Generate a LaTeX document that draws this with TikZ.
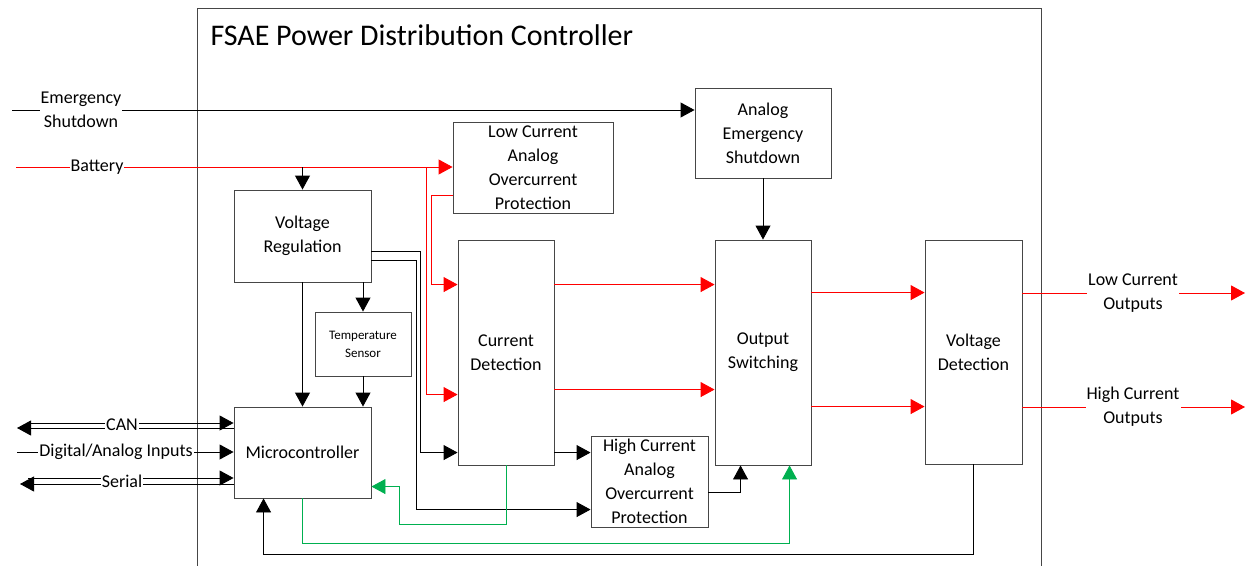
\documentclass[tikz,border=0pt]{standalone}
\usepackage{fontspec}
\setmainfont{Carlito}
\usepackage{xcolor}
\usetikzlibrary{
    arrows.meta,
    calc,
    positioning
}
\definecolor{boxgray}{RGB}{70,70,70}
\definecolor{pwrred}{RGB}{255,0,0}
\definecolor{siggreen}{RGB}{0,176,80}

\begin{document}
\begin{tikzpicture}[x=1pt, y=-1pt,
    font=\fontsize{18}{24}\selectfont,
    >={Triangle[length=14pt,width=15pt]},
    blk/.style={draw=boxgray, line width=0.9pt, align=center, inner sep=0pt},
    lbl/.style={fill=white, align=center, inner sep=1pt},
    wire/.style={line width=0.9pt, color=black},
    pwr/.style={line width=0.9pt, color=pwrred},
    sig/.style={line width=0.9pt, color=siggreen}]
                                \useasboundingbox (0,0) rectangle (1253,565);
                                \draw[boxgray, line width=1pt] (197,570) -- (197,8) -- (1041,8) -- (1041,570);
                                \node[anchor=west, font=\fontsize{30}{34}\selectfont] (title) at (207,35) {FSAE Power Distribution Controller};
                                \node[blk, minimum width=136pt, minimum height=90pt] (aes) at (763,133) {Analog\\Emergency\\Shutdown};
                                \node[blk, minimum width=160pt, minimum height=91pt] (lcaop) at (533,167.5) {Low Current\\Analog\\Overcurrent\\Protection};
                                \node[blk, minimum width=137pt, minimum height=92pt] (vreg) at (302.5,236) {Voltage\\Regulation};
                                \node[blk, minimum width=96pt, minimum height=64pt, font=\fontsize{13}{18}\selectfont] (temp) at (363,344) {Temperature\\Sensor};
                                \node[blk, minimum width=137pt, minimum height=91pt] (mcu) at (302.5,452.5) {Microcontroller};
                                \node[blk, minimum width=96pt, minimum height=225pt] (curdet) at (506,352.5) {Current\\Detection};
                                \node[blk, minimum width=96pt, minimum height=225pt] (outsw) at (763,352.5) {Output\\Switching};
                                \node[blk, minimum width=97pt, minimum height=224pt] (voltdet) at (973.5,352) {Voltage\\Detection};
                                \node[blk, minimum width=117pt, minimum height=91pt] (hcaop) at (649.5,481.5) {High Current\\Analog\\Overcurrent\\Protection};
                                \coordinate (esdin) at (12,110);
                                \coordinate (batin) at (16,167);
                                \coordinate (batsplit) at (426,167);
                                \coordinate (canin) at (26,423);
                                \coordinate (canout) at (17,428);
                                \coordinate (daiin) at (17,452);
                                \coordinate (serin) at (28,478);
                                \coordinate (serout) at (20,484);
                                \coordinate (lcoend) at (1245,293);
                                \coordinate (hcoend) at (1245,407);
                                \draw[wire,->] (esdin) -- (esdin -| aes.west);
                                \draw[pwr,->] (batin) -- (batin -| lcaop.west);
                                \draw[wire,->] (batin -| vreg.north) -- (vreg.north);
                                \draw[pwr,->] (batsplit) |- ($(curdet.north west)+(0,155)$);
                                \draw[pwr,->] ($(lcaop.north west)+(0,74)$) -| ($(curdet.north west)+(-26,45)$) -- ($(curdet.north west)+(0,45)$);
                                \draw[wire,->] (vreg) -- (mcu);
                                \draw[wire,->] (vreg.south -| temp) -- (temp.north);
                                \draw[wire,->] (temp.south) -- (temp.south |- mcu.north);
                                \draw[wire,->] ($(vreg.north east)+(0,62)$) -| ($(curdet.north west)+(-37,213)$) -- ($(curdet.north west)+(0,213)$);
                                \draw[wire,->] ($(vreg.north east)+(0,71)$) -| ($(hcaop.north west)+(-174,74)$) -- ($(hcaop.north west)+(0,74)$);
                                \draw[wire,->] ($(curdet.north east)+(0,213)$) coordinate (cdhc) -- (cdhc -| hcaop.west);
                                \draw[wire,->] ($(hcaop.north east)+(0,57)$) -| ($(outsw.south west)+(26,0)$);
                                \draw[wire,->] (aes) -- (outsw);
                                \draw[pwr,->] ($(curdet.north east)+(0,45)$) coordinate (cdos1) -- (cdos1 -| outsw.west);
                                \draw[pwr,->] ($(curdet.north east)+(0,150)$) coordinate (cdos2) -- (cdos2 -| outsw.west);
                                \draw[pwr,->] ($(outsw.north east)+(0,53)$) coordinate (osvd1) -- (osvd1 -| voltdet.west);
                                \draw[pwr,->] ($(outsw.north east)+(0,167)$) coordinate (osvd2) -- (osvd2 -| voltdet.west);
                                \draw[pwr,->] (lcoend -| voltdet.east) -- (lcoend);
                                \draw[pwr,->] (hcoend -| voltdet.east) -- (hcoend);
                                \draw[sig,->] (curdet.south) |- (399,524) |- ($(mcu.north east)+(0,80)$);
                                \draw[sig,->] (mcu.south) |- ($(outsw.south west)+(75,78)$) -- ($(outsw.south west)+(75,0)$);
                                \draw[wire,->] (voltdet.south) |- ($(mcu.south west)+(30,56)$) -- ($(mcu.south west)+(30,0)$);
                                \draw[wire,->] (canin) -- (canin -| mcu.west);
                                \draw[wire,->] (canout -| mcu.west) -- (canout);
                                \draw[wire,->] (daiin) -- (daiin -| mcu.west);
                                \draw[wire,->] (serin) -- (serin -| mcu.west);
                                \draw[wire,->] (serout -| mcu.west) -- (serout);
                                \node[lbl] (esdlbl) at (81,110) {Emergency\\Shutdown};
                                \node[lbl] (batlbl) at (97,167) {Battery};
                                \node[lbl] (canlbl) at (122,425) {CAN};
                                \node[lbl] (dailbl) at (116,452) {Digital/Analog Inputs};
                                \node[lbl] (serlbl) at (122,481) {Serial};
                                \node[lbl] (lcolbl) at (1133,293) {Low Current\\Outputs};
                                \node[lbl] (hcolbl) at (1133,407) {High Current\\Outputs};
                            \end{tikzpicture}
\end{document}
